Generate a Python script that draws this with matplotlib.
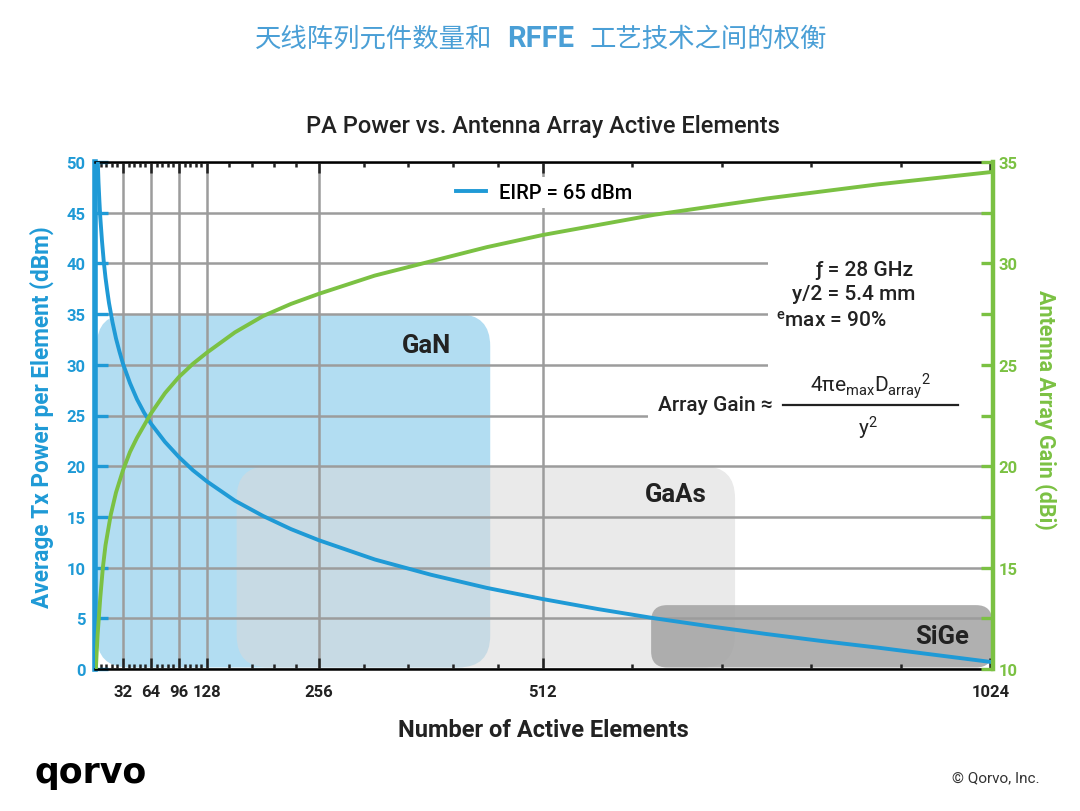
import numpy as np
import matplotlib
matplotlib.use('Agg')
import matplotlib.pyplot as plt
from matplotlib.patches import FancyBboxPatch, Rectangle

plt.rcParams['font.family'] = ['Roboto', 'DejaVu Sans']
plt.rcParams['mathtext.default'] = 'regular'

# Data
n_blue = [3.2, 4, 5, 6, 8, 10, 12, 14, 16, 20, 24, 28, 32, 40, 48, 56, 64, 80,
          96, 112, 128, 160, 192, 224, 256, 320, 384, 448, 512, 576, 640, 704,
          768, 832, 896, 960, 1024]
p_blue = [50, 48, 46.2, 44.6, 42.2, 40.2, 38.6, 37.3, 36.1, 34.2, 32.6, 31.3,
          30.1, 28.2, 26.6, 25.3, 24.2, 22.4, 20.9, 19.6, 18.5, 16.6, 15.1, 13.8,
          12.7, 10.8, 9.3, 8.0, 6.9, 5.9, 5.0, 4.2, 3.45, 2.75, 2.1, 1.4, 0.7]

n_green = [1, 2, 3, 4.5, 6, 9, 12, 18, 24, 32, 40, 48, 64, 80, 96, 112, 128,
           160, 192, 224, 256, 320, 384, 448, 512, 640, 768, 896, 1024]
g_green = [10.0, 10.9, 11.7, 12.6, 13.5, 15.0, 16.1, 17.6, 18.7, 19.8, 20.7,
           21.4, 22.6, 23.6, 24.4, 25.05, 25.6, 26.6, 27.4, 28.0, 28.5, 29.4,
           30.1, 30.8, 31.4, 32.4, 33.2, 33.9, 34.5]

tech_names = ['GaN', 'GaAs', 'SiGe']
tech_x0 = [2, 162, 636]
tech_x1 = [452, 732, 1026]
tech_top = [35, 20, 6.3]

xticks = [32, 64, 96, 128, 256, 512, 1024]

blue = '#1f9ad6'
green = '#7bc143'
gridc = '#9c9c9c'
tc = '#222222'

W, H = 1080, 812
fig = plt.figure(figsize=(W / 100, H / 100), dpi=100)
ax = fig.add_axes([95 / W, 1 - 670 / H, 898 / W, 507 / H])
ax.set_xlim(0, 1027)
ax.set_ylim(0, 50)

# px per data unit, used to keep box corners round
pxx = 898 / 1027
pxy = 507 / 50

box_cols = ['#b2ddf2', '#d9d9d9', '#a3a3a3']
box_alpha = [1.0, 0.55, 0.85]
box_rad = [32, 32, 16]
for i in range(3):
    r = box_rad[i] / pxx
    p = FancyBboxPatch((tech_x0[i], 0.15), tech_x1[i] - tech_x0[i], tech_top[i] - 0.15,
                       boxstyle='round,pad=0,rounding_size=%.2f' % r,
                       mutation_aspect=pxx / pxy, facecolor=box_cols[i],
                       alpha=box_alpha[i], edgecolor='none', zorder=1)
    ax.add_patch(p)

lab_x = [379, 664, 969]
lab_y = [32.0, 17.3, 3.25]
for i in range(3):
    ax.text(lab_x[i], lab_y[i], tech_names[i], fontsize=18.5, fontweight='bold',
            color=tc, ha='center', va='center', zorder=4)

# grid
ax.yaxis.grid(True, color=gridc, lw=1.8)
for xv in xticks[:-1]:
    ax.axvline(xv, color=gridc, lw=1.8, zorder=1.5)

# white backgrounds of the formula block
ax.add_patch(Rectangle((770, 22.3), 257, 19.6, facecolor='white', edgecolor='none', zorder=1.7))
ax.add_patch(Rectangle((632, 22.3), 395, 6.2, facecolor='white', edgecolor='none', zorder=1.7))

ax.plot(n_blue, p_blue, color=blue, lw=2.8, zorder=3, label='EIRP = 65 dBm')

# spines
for s in ['top', 'bottom']:
    ax.spines[s].set_color('black')
    ax.spines[s].set_linewidth(1.8)
ax.spines['left'].set_color(blue)
ax.spines['left'].set_linewidth(4)
ax.spines['right'].set_visible(False)

ax.set_xticks(xticks)
ax.set_xticklabels([str(v) for v in xticks], fontweight='bold')
minor = [6.4 * k for k in range(1, 20) if k % 5 != 0]
minor += [153.6, 179.2, 204.8, 230.4, 307.2, 358.4, 409.6, 460.8,
          614.4, 716.8, 819.2, 921.6]
ax.set_xticks(minor, minor=True)
ax.tick_params(axis='x', which='major', direction='in', length=8, width=1.8,
               top=True, bottom=True, labelsize=12, pad=11, colors=tc)
ax.tick_params(axis='x', which='minor', direction='in', length=3.5, width=1.8,
               top=True, bottom=True, color=tc)

ax.set_yticks(range(0, 51, 5))
ax.set_yticklabels([str(v) for v in range(0, 51, 5)], fontweight='bold')
ax.tick_params(axis='y', direction='in', length=9, width=2.4, color=blue,
               labelcolor=blue, labelsize=12, pad=7)

leg = ax.legend(loc='upper center', bbox_to_anchor=(0.5, 0.99), frameon=True,
                fancybox=False, edgecolor='none', facecolor='white', framealpha=1,
                prop={'size': 14.5, 'weight': 'medium'}, handlelength=1.5,
                handletextpad=0.6, borderpad=0.3)
leg.set_zorder(5)

# right axis
ax2 = ax.twinx()
ax2.set_ylim(10, 35)
ax2.plot(n_green, g_green, color=green, lw=2.8, zorder=3)
for s in ['top', 'bottom', 'left']:
    ax2.spines[s].set_visible(False)
ax2.spines['right'].set_color(green)
ax2.spines['right'].set_linewidth(3.2)
ax2.set_yticks(range(10, 36, 5))
ax2.set_yticklabels([str(v) for v in range(10, 36, 5)], fontweight='bold')
ax2.set_yticks([12.5, 17.5, 22.5, 27.5, 32.5], minor=True)
ax2.tick_params(axis='y', which='both', direction='in', length=9, width=2.4,
                color=green, labelcolor=green, labelsize=12, pad=4)

# formula block
fs = 15
ax.text(880, 39.4, 'ƒ = 28 GHz', fontsize=fs, fontweight='medium', color=tc,
        ha='center', va='center', zorder=4)
ax.text(868, 37.0, 'y/2 = 5.4 mm', fontsize=fs, fontweight='medium', color=tc,
        ha='center', va='center', zorder=4)
ax.text(842, 34.4, r'$^{e}$max = 90%', fontsize=fs, fontweight='medium', color=tc,
        ha='center', va='center', zorder=4)
ax.text(775, 26.1, 'Array Gain ≈', fontsize=fs, fontweight='medium', color=tc,
        ha='right', va='center', zorder=4)
ax.text(887, 28.0, r'4πe$_{max}$D$_{array}$$^{2}$', fontsize=fs, color=tc,
        ha='center', va='center', zorder=4)
ax.plot([787, 987], [26.06, 26.06], color=tc, lw=1.6, zorder=4)
ax.text(884, 23.8, r'y$^{2}$', fontsize=fs, color=tc,
        ha='center', va='center', zorder=4)

# titles and axis labels
cjk = ['Noto Sans CJK SC', 'DejaVu Sans']
fig.text(492 / W, 1 - 39 / H, '天线阵列元件数量和', fontsize=19, color='#4a9fd6',
         ha='right', va='center', family=cjk)
fig.text(541 / W, 1 - 39 / H, 'RFFE', fontsize=21, color='#4a9fd6', fontweight='bold',
         ha='center', va='center')
fig.text(590 / W, 1 - 39 / H, '工艺技术之间的权衡', fontsize=19, color='#4a9fd6',
         ha='left', va='center', family=cjk)
fig.text(543 / W, 1 - 126 / H, 'PA Power vs. Antenna Array Active Elements',
         fontsize=17, fontweight='medium', color=tc, ha='center', va='center')
fig.text(543 / W, 1 - 731 / H, 'Number of Active Elements', fontsize=17,
         fontweight='bold', color=tc, ha='center', va='center')
fig.text(42 / W, 1 - 417 / H, 'Average Tx Power per Element (dBm)', fontsize=16.3,
         fontweight='bold', color=blue, rotation=90, ha='center', va='center')
fig.text(1045 / W, 1 - 410 / H, 'Antenna Array Gain (dBi)', fontsize=15.5,
         fontweight='bold', color=green, rotation=270, ha='center', va='center')

fig.text(35 / W, 1 - 773 / H, 'qorvo', fontsize=25, fontweight='bold', color='black',
         ha='left', va='center', family='DejaVu Sans')
fig.text(1040 / W, 1 - 778 / H, '© Qorvo, Inc.', fontsize=11, color='#333333',
         ha='right', va='center')

fig.savefig('out.png', dpi=100)
